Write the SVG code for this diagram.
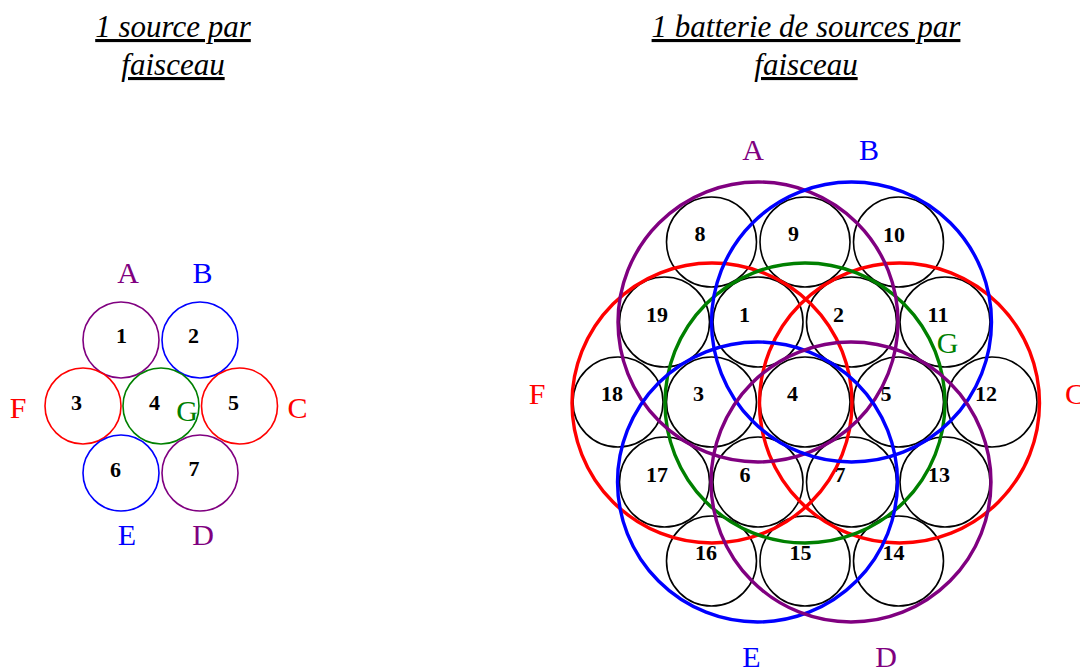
<svg xmlns="http://www.w3.org/2000/svg" width="1080" height="669" viewBox="0 0 1080 669">
<style>
.t{font-family:"Liberation Serif","Times New Roman",serif;font-style:italic;font-size:31px;text-decoration:underline;text-anchor:middle;fill:#000}
.n{font-family:"Liberation Serif","Times New Roman",serif;font-weight:bold;font-size:22px;text-anchor:middle;fill:#000}
.l{font-family:"Liberation Serif","Times New Roman",serif;font-size:30px;text-anchor:middle}
.s{fill:none;stroke-width:1.6}
.k{fill:none;stroke:#000;stroke-width:1.6}
.b{fill:none;stroke-width:3.4}
.pu{stroke:#800080}.bl{stroke:#0000FF}.re{stroke:#FF0000}.gr{stroke:#008000}
.fpu{fill:#800080}.fbl{fill:#0000FF}.fre{fill:#FF0000}.fgr{fill:#008000}
</style>
<rect width="1080" height="669" fill="#fff"/>
<g id="titles">
<text class="t" x="173" y="37">1 source par</text>
<text class="t" x="173" y="75">faisceau</text>
<text class="t" x="806" y="37">1 batterie de sources par</text>
<text class="t" x="806" y="75">faisceau</text>
</g>
<g id="left">
<g id="L1"><circle class="s pu" cx="121" cy="340" r="38"/><text class="n" x="121.5" y="343">1</text></g>
<g id="L2"><circle class="s bl" cx="200" cy="340" r="38"/><text class="n" x="193.5" y="343">2</text></g>
<g id="L3"><circle class="s re" cx="83" cy="406" r="38"/><text class="n" x="76.5" y="410">3</text></g>
<g id="L4"><circle class="s gr" cx="161" cy="406" r="38"/><text class="n" x="154.5" y="410">4</text></g>
<g id="L5"><circle class="s re" cx="239.5" cy="406" r="38"/><text class="n" x="233.5" y="410">5</text></g>
<g id="L6"><circle class="s bl" cx="121" cy="473" r="38"/><text class="n" x="115.5" y="477">6</text></g>
<g id="L7"><circle class="s pu" cx="200" cy="473" r="38"/><text class="n" x="194" y="476">7</text></g>
<text class="l fpu" x="128" y="283">A</text>
<text class="l fbl" x="202.5" y="283">B</text>
<text class="l fre" x="18" y="418">F</text>
<text class="l fre" x="297.5" y="418">C</text>
<text class="l fgr" x="187" y="421">G</text>
<text class="l fbl" x="127" y="545">E</text>
<text class="l fpu" x="203" y="545">D</text>
</g>
<g id="right">
<g id="R8"><circle class="k" cx="711.5" cy="242" r="45"/><text class="n" x="700" y="241">8</text></g>
<g id="R9"><circle class="k" cx="805" cy="242" r="45"/><text class="n" x="793.5" y="241">9</text></g>
<g id="R10"><circle class="k" cx="898.5" cy="242" r="45"/><text class="n" x="894" y="242">10</text></g>
<g id="R19"><circle class="k" cx="664.5" cy="322" r="45"/><text class="n" x="657" y="322">19</text></g>
<g id="R1"><circle class="k" cx="758" cy="322" r="45"/><text class="n" x="744.5" y="322">1</text></g>
<g id="R2"><circle class="k" cx="851.5" cy="322" r="45"/><text class="n" x="838.5" y="322">2</text></g>
<g id="R11"><circle class="k" cx="945" cy="322" r="45"/><text class="n" x="938" y="322">11</text></g>
<g id="R18"><circle class="k" cx="618" cy="402" r="45"/><text class="n" x="612" y="401">18</text></g>
<g id="R3"><circle class="k" cx="711.5" cy="402" r="45"/><text class="n" x="698.5" y="401">3</text></g>
<g id="R4"><circle class="k" cx="805" cy="402" r="45"/><text class="n" x="792.5" y="401">4</text></g>
<g id="R5"><circle class="k" cx="898.5" cy="402" r="45"/><text class="n" x="886" y="401">5</text></g>
<g id="R12"><circle class="k" cx="992" cy="402" r="45"/><text class="n" x="986" y="401">12</text></g>
<g id="R17"><circle class="k" cx="664.5" cy="482" r="45"/><text class="n" x="657" y="482">17</text></g>
<g id="R6"><circle class="k" cx="758" cy="482" r="45"/><text class="n" x="745" y="482">6</text></g>
<g id="R7"><circle class="k" cx="851.5" cy="482" r="45"/><text class="n" x="840" y="482">7</text></g>
<g id="R13"><circle class="k" cx="945" cy="482" r="45"/><text class="n" x="939" y="482">13</text></g>
<g id="R16"><circle class="k" cx="711.5" cy="561" r="45"/><text class="n" x="706" y="560">16</text></g>
<g id="R15"><circle class="k" cx="805" cy="561" r="45"/><text class="n" x="800.5" y="560">15</text></g>
<g id="R14"><circle class="k" cx="898.5" cy="561" r="45"/><text class="n" x="893.5" y="560">14</text></g>
<g id="beamF"><circle class="b re" cx="712" cy="403" r="140"/><text class="l fre" x="537" y="404">F</text></g>
<g id="beamC"><circle class="b re" cx="899.5" cy="403" r="140"/><text class="l fre" x="1075" y="404">C</text></g>
<g id="beamG"><circle class="b gr" cx="805" cy="403" r="140"/><text class="l fgr" x="947.5" y="353">G</text></g>
<g id="beamA"><circle class="b pu" cx="758" cy="322" r="140"/><text class="l fpu" x="753" y="160">A</text></g>
<g id="beamB"><circle class="b bl" cx="851.5" cy="322" r="140"/><text class="l fbl" x="869" y="160">B</text></g>
<g id="beamE"><circle class="b bl" cx="757.5" cy="482" r="140"/><text class="l fbl" x="751.5" y="667">E</text></g>
<g id="beamD"><circle class="b pu" cx="851" cy="482" r="140"/><text class="l fpu" x="886" y="667">D</text></g>
</g>
</svg>
